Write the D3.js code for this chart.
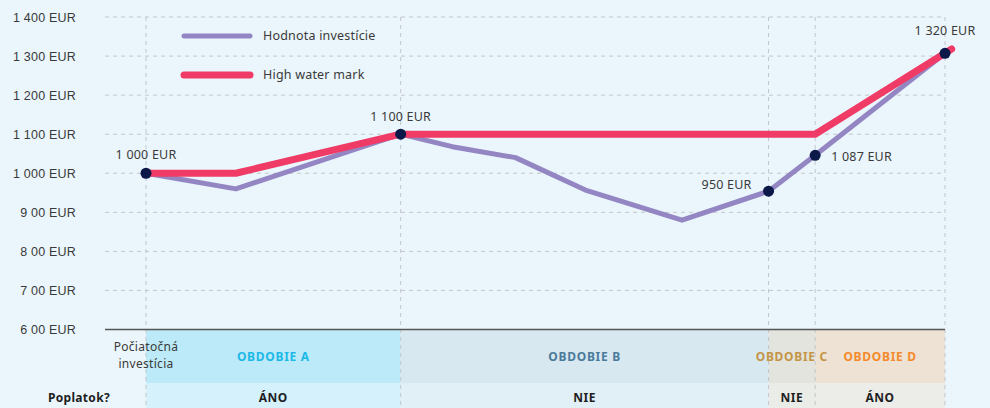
<!DOCTYPE html>
<html>
<head>
<meta charset="utf-8">
<script src="https://cdn.jsdelivr.net/npm/d3@7"></script>
<style>
    html, body { margin: 0; padding: 0; background: #eaf6fc; }
    svg { display: block; font-family: 'Noto Sans', sans-serif; }
    .tick text { fill: #3a3a3a; font-size: 12.5px; letter-spacing: 0.2px; }
</style>
</head>
<body>
<svg id="chart" width="990" height="408"></svg>
<script>
(function () {
    'use strict';

    // months since start
    const valueMonths = [0, 2.7, 7.65, 9.2, 11.1, 13.2, 16.1, 18.7, 20.1, 24];
    const valueEur = [1000, 960, 1100, 1068, 1040, 957, 880, 954, 1046, 1307];
    const hwmMonths = [0, 2.7, 7.65, 20.1, 24.2];
    const hwmEur = [1000, 1000, 1100, 1100, 1318];

    const yTicks = [600, 700, 800, 900, 1000, 1100, 1200, 1300, 1400];
    const yTickLabels = ['6 00 EUR', '7 00 EUR', '8 00 EUR', '9 00 EUR', '1 000 EUR',
        '1 100 EUR', '1 200 EUR', '1 300 EUR', '1 400 EUR'];

    const markerMonths = [0, 7.65, 18.7, 20.1, 24];
    const markerEur = [1000, 1100, 954, 1046, 1307];
    const markerLabels = ['1 000 EUR', '1 100 EUR', '950 EUR', '1 087 EUR', '1 320 EUR'];

    const periodNames = ['OBDOBIE A', 'OBDOBIE B', 'OBDOBIE C', 'OBDOBIE D'];
    const periodStart = [0, 7.65, 18.7, 20.1];
    const periodEnd = [7.65, 18.7, 20.1, 24];
    const periodFee = ['ÁNO', 'NIE', 'NIE', 'ÁNO'];

    const legendNames = ['Hodnota investície', 'High water mark'];

    const colors = {
        value: '#9386c3',
        hwm: '#f03b66',
        dot: '#0b1848',
        text: '#3a3a3a',
        grid: '#c3c6ca'
    };
    const periodColors = ['#1cb9e8', '#4a7b9b', '#c59547', '#f58a2c'];
    const bandTop = ['#bdeaf8', '#d8e8f1', '#e2e4dd', '#ede2d3'];
    const bandBottom = ['#d5f1fb', '#e1eff6', '#eaece8', '#ecece8'];

    const svg = d3.select('#chart');
    const left = 105, right = 945;
    const x = d3.scaleLinear().domain([0, 24]).range([146, 945]);
    const y = d3.scaleLinear().domain([600, 1400]).range([329.5, 17]);
    const rowTop = 330, rowMid = 383, rowBottom = 408;

    // bands
    periodNames.forEach((name, i) => {
        const x0 = x(periodStart[i]), x1 = x(periodEnd[i]);
        svg.append('rect').attr('x', x0).attr('y', rowTop)
            .attr('width', x1 - x0).attr('height', rowMid - rowTop)
            .attr('fill', bandTop[i]);
        svg.append('rect').attr('x', x0).attr('y', rowMid)
            .attr('width', x1 - x0).attr('height', rowBottom - rowMid)
            .attr('fill', bandBottom[i]);
    });

    // horizontal grid
    svg.append('g').selectAll('line')
        .data(yTicks.filter(d => d !== 600))
        .join('line')
        .attr('x1', left).attr('x2', right)
        .attr('y1', d => y(d)).attr('y2', d => y(d))
        .attr('stroke', colors.grid).attr('stroke-dasharray', '4,4');

    // vertical grid at period boundaries
    svg.append('g').selectAll('line')
        .data(markerMonths)
        .join('line')
        .attr('x1', d => x(d)).attr('x2', d => x(d))
        .attr('y1', y(1400)).attr('y2', rowBottom)
        .attr('stroke', colors.grid).attr('stroke-dasharray', '4,4');

    // base line
    svg.append('line')
        .attr('x1', left).attr('x2', right)
        .attr('y1', y(600)).attr('y2', y(600))
        .attr('stroke', '#555').attr('stroke-width', 1.5);

    // y axis
    const yAxis = d3.axisLeft(y)
        .tickValues(yTicks)
        .tickSize(0)
        .tickPadding(0)
        .tickFormat((d, i) => yTickLabels[i]);
    svg.append('g')
        .attr('transform', 'translate(76, 0)')
        .call(yAxis)
        .call(g => g.select('.domain').remove());

    // lines
    const line = d3.line().x(d => x(d[0])).y(d => y(d[1]));
    svg.append('path')
        .datum(d3.zip(valueMonths, valueEur))
        .attr('d', line).attr('fill', 'none')
        .attr('stroke', colors.value).attr('stroke-width', 5)
        .attr('stroke-linejoin', 'round');
    svg.append('path')
        .datum(d3.zip(hwmMonths, hwmEur))
        .attr('d', line).attr('fill', 'none')
        .attr('stroke', colors.hwm).attr('stroke-width', 7)
        .attr('stroke-linejoin', 'round').attr('stroke-linecap', 'round');

    // markers
    svg.append('g').selectAll('circle')
        .data(d3.zip(markerMonths, markerEur))
        .join('circle')
        .attr('cx', d => x(d[0])).attr('cy', d => y(d[1]))
        .attr('r', 5.5).attr('fill', colors.dot);

    const labelPos = [
        { dx: 0, dy: -14, anchor: 'middle' },
        { dx: 0, dy: -13, anchor: 'middle' },
        { dx: -17, dy: -2, anchor: 'end' },
        { dx: 16, dy: 6, anchor: 'start' },
        { dx: 0, dy: -18, anchor: 'middle' }
    ];
    svg.append('g').selectAll('text')
        .data(markerLabels)
        .join('text')
        .attr('x', (d, i) => x(markerMonths[i]) + labelPos[i].dx)
        .attr('y', (d, i) => y(markerEur[i]) + labelPos[i].dy)
        .attr('text-anchor', (d, i) => labelPos[i].anchor)
        .attr('fill', colors.text).attr('font-size', 12.5)
        .attr('letter-spacing', 0.2)
        .text(d => d);

    // legend
    const legend = svg.append('g');
    [colors.value, colors.hwm].forEach((c, i) => {
        const ly = 36 + i * 39;
        legend.append('line')
            .attr('x1', 184).attr('x2', 250).attr('y1', ly).attr('y2', ly)
            .attr('stroke', c).attr('stroke-width', i ? 7 : 5)
            .attr('stroke-linecap', 'round');
        legend.append('text')
            .attr('x', 263).attr('y', ly + 4)
            .attr('fill', colors.text).attr('font-size', 12.5)
            .attr('letter-spacing', 0.2)
            .text(legendNames[i]);
    });

    // period labels
    periodNames.forEach((name, i) => {
        const cx = (x(periodStart[i]) + x(periodEnd[i])) / 2;
        svg.append('text')
            .attr('x', cx).attr('y', 361)
            .attr('text-anchor', 'middle')
            .attr('font-size', 12).attr('font-weight', 'bold')
            .attr('letter-spacing', 0.7)
            .attr('fill', periodColors[i])
            .text(name);
        svg.append('text')
            .attr('x', cx).attr('y', 402)
            .attr('text-anchor', 'middle')
            .attr('font-size', 12).attr('font-weight', 'bold')
            .attr('letter-spacing', 0.5)
            .attr('fill', '#1e1e1e')
            .text(periodFee[i]);
    });

    ['Počiatočná', 'investícia'].forEach((t, i) => {
        svg.append('text')
            .attr('x', 146).attr('y', 351 + i * 16.5)
            .attr('text-anchor', 'middle')
            .attr('font-size', 12).attr('fill', colors.text)
            .attr('letter-spacing', 0.3)
            .text(t);
    });

    svg.append('text')
        .attr('x', 79).attr('y', 402)
        .attr('text-anchor', 'middle')
        .attr('font-size', 12).attr('font-weight', 'bold')
        .attr('letter-spacing', 0.3)
        .attr('fill', '#1e1e1e')
        .text('Poplatok?');
})();
</script>
</body>
</html>
